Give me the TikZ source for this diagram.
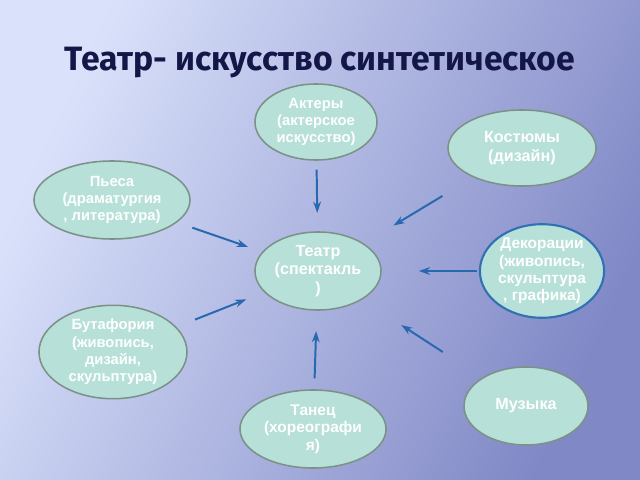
\documentclass[tikz,border=0pt]{standalone}
\usepackage{fontspec}
\setmainfont{Liberation Sans}
\newfontfamily\titlefont{Fira Sans}
\usetikzlibrary{arrows.meta,calc,shapes.geometric}
\definecolor{bgleft}{RGB}{218,226,251}
\definecolor{bgright}{RGB}{128,136,198}
\definecolor{bubblefill}{RGB}{182,224,216}
\definecolor{rim}{RGB}{124,146,136}
\definecolor{rimblue}{RGB}{50,112,180}
\definecolor{arrowblue}{RGB}{40,104,176}
\definecolor{titleblue}{RGB}{20,22,72}

\begin{document}
\begin{tikzpicture}[x=0.025cm,y=-0.025cm,
    bubble/.style={ellipse,draw=rim,line width=1.1pt,fill=bubblefill,text=white,align=center,inner sep=0pt},
    arr/.style={arrowblue,line width=1.4pt,-{Stealth[length=8pt,width=5.5pt]}}]
            % background
            \shade[left color=bgleft,right color=bgright,shading angle=65] (0,0) rectangle (640,480);
            \useasboundingbox (0,0) rectangle (640,480);

            \node[anchor=base,text=titleblue,font=\titlefont\bfseries\fontsize{24}{28}\selectfont] (title) at (320,70) {Театр- искусство синтетическое};

            % centre and the arts around it
            \node[bubble,minimum width=3.15cm,minimum height=1.95cm,font=\bfseries\fontsize{11.5}{13}\selectfont] (teatr) at (318,271) {Театр\\(спектакль\\)};
            \node[bubble,minimum width=3.05cm,minimum height=1.9cm,font=\bfseries\fontsize{10.5}{12}\selectfont] (aktery) at (316,122) {Актеры\\(актерское\\искусство)};
            \node[bubble,minimum width=3.7cm,minimum height=1.9cm,font=\bfseries\fontsize{11.5}{13}\selectfont] (kostyumy) at (522,148) {Костюмы\\(дизайн)};
            \node[bubble,minimum width=3.9cm,minimum height=1.95cm,font=\bfseries\fontsize{10.5}{11.8}\selectfont] (pesa) at (112,200) {Пьеса\\(драматургия\\, литература)};
            \node[bubble,draw=rimblue,line width=1.5pt,minimum width=2.7cm,minimum height=2.15cm,font=\bfseries\fontsize{11}{12.4}\selectfont] (dekor) at (542,271) {Декорации\\(живопись,\\скульптура\\, графика)};
            \node[bubble,minimum width=3.7cm,minimum height=1.95cm,font=\bfseries\fontsize{10.5}{12.4}\selectfont] (butaf) at (113,352) {Бутафория\\(живопись,\\дизайн,\\скульптура)};
            \node[bubble,minimum width=3.65cm,minimum height=1.95cm,font=\bfseries\fontsize{11}{12.5}\selectfont] (tanets) at (313,429) {Танец\\(хореографи\\я)};
            \node[bubble,minimum width=3.1cm,minimum height=1.95cm,font=\bfseries\fontsize{11.5}{13}\selectfont] (muzyka) at (526,406) {Музыка};

            % arrows towards the centre
            \draw[arr] ($(aktery)!0.32!(teatr)$) -- ($(aktery)!0.61!(teatr)$);
            \draw[arr] ($(kostyumy)!0.39!(teatr)$) -- ($(kostyumy)!0.63!(teatr)$);
            \draw[arr] ($(pesa)!0.39!(teatr)$) -- ($(pesa)!0.66!(teatr)$);
            \draw[arr] ($(dekor)!0.29!(teatr)$) -- ($(dekor)!0.55!(teatr)$);
            \draw[arr] ($(butaf)!0.40!(teatr)$) -- ($(butaf)!0.65!(teatr)$);
            \draw[arr] ($(tanets)!0.32!(teatr)$) -- ($(tanets)!0.62!(teatr)$);
            \draw[arr] ($(muzyka)!0.40!(teatr)$) -- ($(muzyka)!0.60!(teatr)$);
        \end{tikzpicture}
\end{document}
